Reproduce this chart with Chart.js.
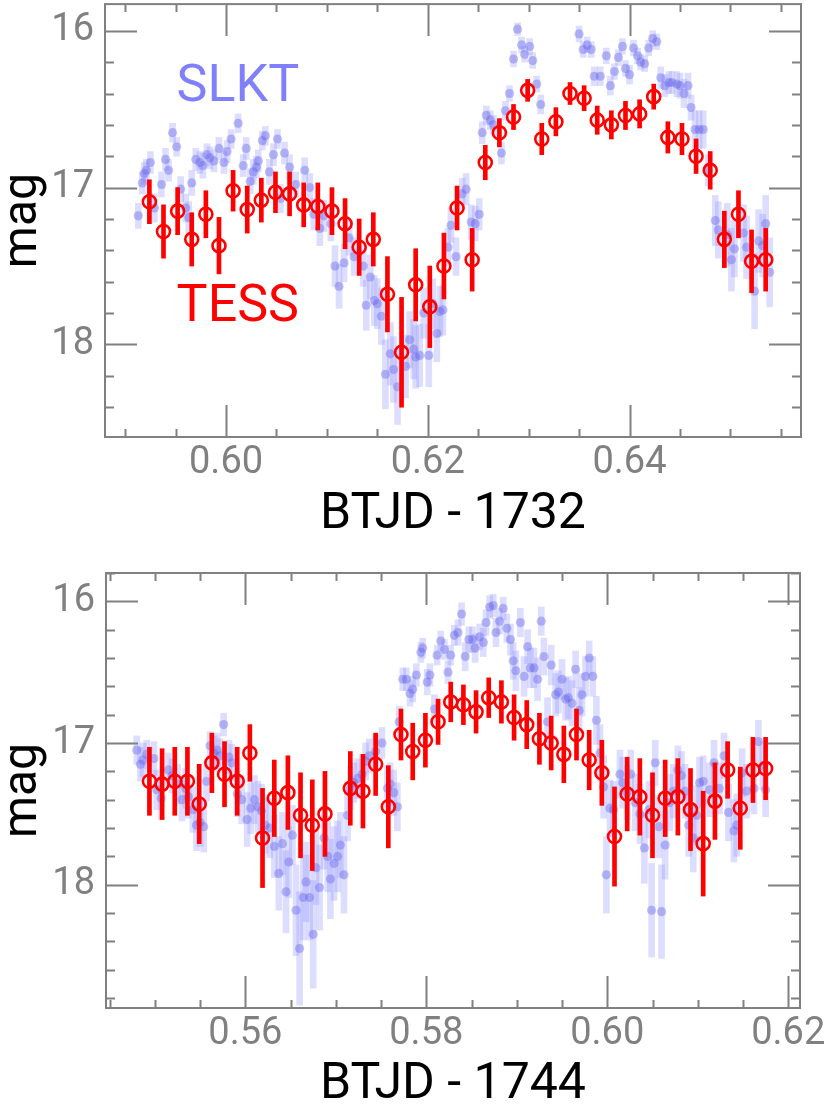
<!DOCTYPE html>
<html lang="en">
<head>
<meta charset="UTF-8">
<title>SLKT / TESS light curves</title>
<script src="https://cdn.jsdelivr.net/npm/chart.js"></script>
<style>
  html, body { margin: 0; padding: 0; background: #fff; }
  .panel { position: absolute; left: 0; width: 830px; }
  #p1 { top: -5px; height: 555px; }
  #p2 { top: 550px; height: 557px; }
</style>
</head>
<body>
<div class="panel" id="p1"><canvas id="chart1"></canvas></div>
<div class="panel" id="p2"><canvas id="chart2"></canvas></div>

<script>
// ---- panel 1 : BTJD - 1732 ----
const slkt1Time = [
  0.5913,0.5917,0.5919,0.5921,0.5925,0.5929,0.5936,0.5940,0.5943,0.5947,
  0.5951,0.5955,0.5960,0.5963,0.5966,0.5970,0.5974,0.5977,0.5981,0.5984,
  0.5988,0.5993,0.5998,0.6001,0.6005,0.6012,0.6017,0.6020,0.6024,0.6027,
  0.6030,0.6032,0.6036,0.6039,0.6043,0.6047,0.6051,0.6054,0.6058,0.6063,
  0.6069,0.6078,0.6083,0.6087,0.6093,0.6097,0.6104,
  0.6108,0.6112,0.6117,0.6122,0.6127,0.6136,0.6139,0.6143,0.6147,0.6150,
  0.6154,0.6158,0.6163,0.6166,0.6170,0.6178,0.6182,0.6186,0.6188,0.6192,
  0.6196,0.6201,0.6205,0.6209,0.6212,0.6215,0.6220,0.6223,0.6228,0.6234,
  0.6238,0.6243,0.6247,0.6251,0.6254,0.6258,0.6262,0.6265,0.6273,0.6277,
  0.6281,0.6285,0.6289,0.6293,0.6296,0.6301,0.6304,0.6308,0.6312,
  0.6350,0.6354,0.6358,0.6362,0.6365,0.6371,0.6377,0.6381,0.6385,0.6389,0.6393,
  0.6396,0.6400,0.6404,0.6408,0.6411,0.6415,0.6419,0.6423,0.6427,0.6431,
  0.6435,0.6439,0.6442,0.6447,0.6450,0.6454,0.6458,0.6461,0.6465,0.6469,
  0.6473,0.6478,0.6485,0.6488,0.6497,0.6501,0.6504,0.6513,0.6516,0.6524,
  0.6528,0.6532,0.6535,0.6539
];
const slkt1Mag = [
  17.18,16.97,16.91,16.89,16.84,17.13,16.98,16.82,16.89,16.65,
  16.74,17.01,17.13,17.19,16.97,16.82,16.84,16.86,16.79,16.81,
  16.83,16.75,16.84,16.77,16.69,16.59,16.86,16.75,16.96,16.90,
  16.87,16.83,16.70,16.67,16.90,16.79,16.69,17.07,16.78,16.87,
  16.98,16.89,17.00,17.17,17.26,17.18,17.23,
  17.50,17.63,17.48,17.32,17.44,17.50,17.75,17.57,17.72,17.74,
  17.82,18.19,18.06,18.16,18.27,18.14,17.97,18.03,18.08,18.07,
  17.80,18.07,17.74,17.93,17.79,17.78,17.38,17.24,17.44,17.04,
  17.01,17.22,17.23,17.17,16.65,16.54,16.57,16.60,16.78,16.51,
  16.40,16.18,15.99,16.09,16.15,16.10,16.19,16.34,16.47,
  16.02,16.12,16.09,16.12,16.29,16.29,16.16,16.35,16.26,16.17,16.10,
  16.24,16.28,16.11,16.16,16.20,16.21,16.11,16.05,16.07,16.30,
  16.35,16.33,16.33,16.34,16.35,16.40,16.35,16.49,16.63,16.63,
  16.63,16.89,17.21,17.27,17.30,17.46,17.39,17.29,17.38,17.66,
  17.34,17.37,17.23,17.54
];
const slkt1Err = [
  0.08,0.07,0.07,0.07,0.07,0.09,0.08,0.07,0.07,0.06,
  0.06,0.08,0.09,0.10,0.08,0.07,0.07,0.08,0.07,0.07,
  0.07,0.07,0.07,0.07,0.06,0.06,0.07,0.07,0.08,0.08,
  0.07,0.07,0.06,0.06,0.08,0.07,0.06,0.09,0.07,0.08,
  0.08,0.08,0.09,0.10,0.11,0.10,0.11,
  0.13,0.14,0.12,0.11,0.12,0.13,0.16,0.14,0.16,0.16,
  0.18,0.22,0.20,0.21,0.24,0.20,0.18,0.19,0.20,0.20,
  0.16,0.20,0.16,0.18,0.16,0.16,0.12,0.11,0.12,0.10,
  0.10,0.11,0.11,0.10,0.07,0.06,0.06,0.06,0.07,0.06,
  0.05,0.05,0.04,0.05,0.05,0.05,0.05,0.05,0.06,
  0.05,0.05,0.05,0.05,0.06,0.06,0.05,0.06,0.05,0.05,0.05,
  0.05,0.06,0.05,0.05,0.05,0.05,0.05,0.05,0.05,0.07,
  0.07,0.07,0.07,0.08,0.08,0.09,0.08,0.08,0.12,0.12,
  0.12,0.10,0.16,0.18,0.20,0.20,0.18,0.18,0.20,0.24,
  0.20,0.20,0.18,0.22
];
const tess1Time = [
  0.5924,0.5938,0.5952,0.5966,0.5980,0.5993,0.6007,0.6021,0.6035,0.6049,
  0.6063,0.6077,0.6091,0.6105,0.6118,0.6132,0.6146,0.6160,0.6174,0.6188,
  0.6202,0.6216,0.6229,0.6244,0.6257,0.6271,0.6285,0.6299,0.6313,0.6327,
  0.6341,0.6355,0.6368,0.6382,0.6396,0.6410,0.6424,0.6438,0.6452,0.6466,
  0.6480,0.6494,0.6508,0.6521,0.6535
];
const tess1Mag = [
  17.09,17.28,17.15,17.33,17.17,17.37,17.02,17.14,17.08,17.03,
  17.04,17.11,17.12,17.15,17.23,17.38,17.33,17.68,18.05,17.62,
  17.76,17.50,17.13,17.46,16.84,16.65,16.55,16.38,16.69,16.58,
  16.40,16.43,16.57,16.60,16.54,16.53,16.42,16.68,16.69,16.80,
  16.89,17.33,17.17,17.47,17.46
];
const tess1Err = [
  0.14,0.17,0.15,0.17,0.15,0.18,0.13,0.15,0.14,0.13,
  0.14,0.14,0.15,0.15,0.16,0.18,0.17,0.24,0.35,0.23,
  0.26,0.21,0.14,0.20,0.11,0.09,0.08,0.07,0.10,0.09,
  0.07,0.08,0.09,0.09,0.09,0.09,0.08,0.10,0.10,0.11,
  0.12,0.18,0.15,0.20,0.20
];

// ---- panel 2 : BTJD - 1744 ----
const slkt2Time = [
  0.5480,0.5484,0.5487,0.5491,0.5499,0.5502,0.5507,0.5515,0.5519,0.5525,
  0.5530,0.5534,0.5537,0.5542,0.5546,0.5550,0.5554,0.5557,0.5561,0.5565,
  0.5569,0.5572,0.5576,0.5582,0.5585,0.5591,0.5596,0.5602,0.5606,0.5610,
  0.5614,0.5618,0.5622,0.5627,0.5632,0.5637,0.5641,0.5645,0.5648,0.5652,
  0.5656,0.5660,0.5664,0.5667,0.5671,0.5675,0.5678,0.5682,0.5687,0.5691,
  0.5694,0.5698,0.5702,0.5705,0.5709,0.5713,0.5716,0.5720,0.5724,0.5729,
  0.5733,0.5737,0.5744,0.5751,0.5757,0.5760,0.5764,0.5768,0.5770,0.5774,
  0.5778,0.5782,0.5785,0.5789,0.5794,0.5796,0.5801,0.5804,0.5809,0.5812,
  0.5816,0.5820,0.5824,0.5827,0.5831,
  0.5835,0.5839,0.5843,0.5847,0.5851,0.5854,0.5859,0.5863,0.5866,0.5870,
  0.5874,0.5877,0.5881,0.5885,0.5889,0.5893,0.5896,0.5899,0.5904,0.5908,
  0.5912,0.5915,0.5919,0.5923,0.5927,0.5930,0.5934,0.5938,0.5943,0.5946,
  0.5950,0.5954,0.5957,0.5961,0.5965,0.5969,0.5972,0.5976,0.5980,0.5984,
  0.5988,0.5992,0.5996,
  0.5999,0.6003,0.6007,0.6014,0.6017,0.6022,0.6026,0.6031,0.6036,0.6041,
  0.6046,0.6049,0.6053,0.6057,0.6060,0.6064,0.6069,0.6073,0.6078,0.6082,
  0.6086,0.6090,0.6095,0.6099,0.6102,0.6106,0.6113,0.6118,0.6124,0.6129,
  0.6134,0.6140,0.6143,0.6149,0.6154,0.6162,0.6167,0.6172,0.6175
];
const slkt2Mag = [
  17.05,17.15,17.12,17.08,17.11,17.33,17.39,17.19,17.23,17.29,
  17.40,17.32,17.38,17.47,17.58,17.56,17.59,17.27,17.02,17.07,
  17.05,17.09,16.87,17.10,17.14,17.36,17.40,17.54,17.46,17.40,
  17.45,17.48,17.58,17.60,17.73,17.92,17.71,18.05,17.84,17.65,
  18.18,18.45,18.09,17.98,18.09,18.35,17.88,18.02,17.67,17.80,
  17.96,17.85,17.80,17.72,17.93,17.51,17.32,17.28,17.25,17.22,
  17.13,17.09,17.06,17.00,17.32,17.29,17.35,17.45,16.85,16.55,
  16.55,16.65,16.62,16.52,16.36,16.33,16.57,16.52,16.76,16.38,
  16.28,16.34,16.50,16.38,16.24,
  16.22,16.09,16.39,16.27,16.27,16.33,16.25,16.29,16.15,16.04,
  16.03,16.22,16.14,16.05,16.19,16.27,16.42,16.49,16.15,16.53,
  16.32,16.47,16.47,16.55,16.14,16.39,16.85,16.45,16.66,16.64,
  16.55,16.69,16.68,16.72,16.48,16.77,16.66,16.53,16.40,16.53,
  16.84,17.07,17.31,
  17.93,17.46,17.47,17.22,17.28,17.35,17.22,17.42,17.50,17.74,
  17.47,18.18,17.14,17.59,18.19,17.72,17.42,17.34,17.19,17.23,
  17.34,17.58,17.67,17.51,17.28,17.27,17.33,17.14,17.32,17.09,
  17.49,17.62,17.58,17.21,17.34,17.32,16.99,17.16,17.33
];
const slkt2Err = [
  0.10,0.12,0.12,0.10,0.12,0.14,0.15,0.12,0.12,0.14,
  0.15,0.14,0.15,0.16,0.18,0.17,0.18,0.14,0.10,0.12,
  0.12,0.12,0.08,0.12,0.13,0.16,0.17,0.19,0.18,0.17,
  0.18,0.19,0.20,0.21,0.22,0.26,0.22,0.29,0.25,0.21,
  0.32,0.40,0.30,0.28,0.30,0.38,0.26,0.30,0.22,0.25,
  0.28,0.26,0.25,0.23,0.27,0.18,0.15,0.14,0.14,0.14,
  0.13,0.12,0.12,0.11,0.16,0.15,0.16,0.17,0.11,0.08,
  0.08,0.09,0.09,0.08,0.07,0.07,0.09,0.08,0.10,0.07,
  0.07,0.07,0.08,0.07,0.07,
  0.09,0.08,0.10,0.09,0.09,0.10,0.09,0.10,0.09,0.08,
  0.08,0.10,0.09,0.08,0.10,0.11,0.13,0.14,0.10,0.14,
  0.12,0.14,0.14,0.15,0.10,0.13,0.17,0.14,0.15,0.15,
  0.14,0.15,0.15,0.16,0.13,0.16,0.15,0.14,0.12,0.14,
  0.17,0.20,0.22,
  0.27,0.20,0.20,0.17,0.18,0.19,0.17,0.20,0.21,0.25,
  0.20,0.33,0.16,0.22,0.33,0.24,0.20,0.19,0.17,0.17,
  0.19,0.22,0.24,0.21,0.18,0.18,0.19,0.16,0.18,0.16,
  0.20,0.22,0.22,0.17,0.19,0.18,0.15,0.17,0.19
];
const tess2Time = [
  0.5494,0.5508,0.5522,0.5536,0.5549,0.5563,0.5577,0.5591,0.5605,0.5619,
  0.5632,0.5647,0.5661,0.5674,0.5688,0.5716,0.5730,0.5744,0.5758,0.5772,
  0.5785,0.5799,0.5813,0.5827,0.5841,0.5855,0.5869,0.5883,0.5897,0.5911,
  0.5925,0.5938,0.5952,0.5966,0.5980,0.5994,0.6008,0.6022,0.6036,0.6050,
  0.6064,0.6078,0.6092,0.6106,0.6119,0.6133,0.6147,0.6161,0.6175
];
const tess2Mag = [
  17.27,17.29,17.27,17.27,17.43,17.14,17.22,17.27,17.07,17.67,
  17.39,17.35,17.51,17.58,17.50,17.32,17.34,17.15,17.45,16.94,
  17.06,16.98,16.85,16.71,16.73,16.78,16.68,16.71,16.82,16.87,
  16.97,17.00,17.08,16.94,17.12,17.21,17.66,17.36,17.38,17.51,
  17.39,17.38,17.47,17.71,17.41,17.19,17.46,17.19,17.18
];
const tess2Err = [
  0.24,0.25,0.24,0.24,0.28,0.21,0.23,0.24,0.20,0.35,
  0.27,0.26,0.30,0.32,0.30,0.26,0.26,0.22,0.29,0.18,
  0.20,0.19,0.16,0.14,0.14,0.15,0.14,0.15,0.16,0.17,
  0.18,0.19,0.20,0.18,0.21,0.23,0.35,0.26,0.27,0.30,
  0.27,0.27,0.29,0.37,0.27,0.20,0.29,0.23,0.22
];

// ---- axes ----
const xMajor1 = [0.60, 0.62, 0.64];
const xMajor2 = [0.56, 0.58, 0.60, 0.62];
const yMajor = [16, 17, 18];
const xTitle1 = 'BTJD - 1732';
const xTitle2 = 'BTJD - 1744';

const GRAY = '#808080';
const FONT = 'Roboto, "DejaVu Sans", sans-serif';
const SLKT_DOT = 'rgba(100, 100, 230, 0.40)';
const SLKT_BAR = 'rgba(150, 150, 255, 0.32)';
const RED = '#ff0000';

function bars(time, mag, err) {
  return time.map((t, i) => ({ x: t, y: [mag[i] - err[i], mag[i] + err[i]] }));
}
function pts(time, mag) {
  return time.map((t, i) => ({ x: t, y: mag[i] }));
}

// box around the plot with inward ticks on all four sides
const framePlugin = {
  id: 'frame',
  afterDatasetsDraw(chart, args, opts) {
    const { ctx, chartArea: a, scales: { x, y } } = chart;
    const isMajor = (v, list) => list.some(m => Math.abs(m - v) < 1e-6);
    ctx.save();
    ctx.strokeStyle = GRAY;
    ctx.lineWidth = 2;
    ctx.beginPath();
    for (let k = Math.ceil(x.min / opts.xStep - 1e-6); k * opts.xStep <= x.max + 1e-9; k++) {
      const v = k * opts.xStep;
      const px = Math.round(x.getPixelForValue(v)) + 0.5;
      const len = isMajor(v, opts.xMajor) ? 32 : 8;
      ctx.moveTo(px, a.bottom); ctx.lineTo(px, a.bottom - len);
      ctx.moveTo(px, a.top); ctx.lineTo(px, a.top + len);
    }
    for (let k = Math.ceil(y.min / opts.yStep - 1e-6); k * opts.yStep <= y.max + 1e-9; k++) {
      const v = k * opts.yStep;
      const py = Math.round(y.getPixelForValue(v)) + 0.5;
      const len = isMajor(v, opts.yMajor) ? 32 : 9;
      ctx.moveTo(a.left, py); ctx.lineTo(a.left + len, py);
      ctx.moveTo(a.right, py); ctx.lineTo(a.right - len, py);
    }
    ctx.stroke();
    ctx.strokeRect(a.left, a.top, a.right - a.left, a.bottom - a.top);
    ctx.restore();
  }
};

// instrument names written inside the first panel
const labelPlugin = {
  id: 'instLabels',
  afterDatasetsDraw(chart, args, opts) {
    if (!opts.items) return;
    const { ctx, scales: { x, y } } = chart;
    ctx.save();
    ctx.font = '52px ' + FONT;
    ctx.textAlign = 'left';
    ctx.textBaseline = 'alphabetic';
    opts.items.forEach(it => {
      ctx.fillStyle = it.color;
      ctx.fillText(it.text, x.getPixelForValue(it.x), y.getPixelForValue(it.y));
    });
    ctx.restore();
  }
};

function makeChart(id, c) {
  return new Chart(document.getElementById(id), {
    type: 'scatter',
    data: {
      datasets: [
        { type: 'bar', data: bars(c.tessTime, c.tessMag, c.tessErr), backgroundColor: RED,
          barThickness: 4, grouped: false, order: 1 },
        { type: 'scatter', data: pts(c.tessTime, c.tessMag), pointStyle: 'circle', pointRadius: 6.5,
          borderColor: RED, borderWidth: 2.6, backgroundColor: 'rgba(0,0,0,0)', order: 0 },
        { type: 'bar', data: bars(c.slktTime, c.slktMag, c.slktErr), backgroundColor: SLKT_BAR,
          barThickness: 6, grouped: false, order: 3 },
        { type: 'scatter', data: pts(c.slktTime, c.slktMag), pointRadius: 4.6, borderWidth: 0,
          backgroundColor: SLKT_DOT, order: 2 }
      ]
    },
    options: {
      responsive: true,
      maintainAspectRatio: false,
      animation: false,
      events: [],
      layout: { padding: { left: 0, right: c.padRight, top: c.padTop, bottom: 0 } },
      plugins: {
        legend: { display: false },
        tooltip: { enabled: false },
        frame: { xStep: 0.005, yStep: 0.2, xMajor: c.xMajor, yMajor: yMajor },
        instLabels: { items: c.labels }
      },
      scales: {
        x: {
          type: 'linear', min: c.xMin, max: c.xMax, offset: false,
          grid: { display: false, drawTicks: false }, border: { display: false },
          afterBuildTicks: s => { s.ticks = c.xMajor.map(v => ({ value: v })); },
          afterFit: s => { s.height = c.xHeight; s.paddingLeft = 0; s.paddingRight = 0; },
          ticks: { color: GRAY, font: { family: FONT, size: 38 }, padding: 4, maxRotation: 0,
                   autoSkip: false, callback: v => v.toFixed(2) },
          title: { display: true, text: c.xTitle, color: '#000',
                   font: { family: FONT, size: 50, lineHeight: 1 }, padding: { top: 0, bottom: c.titlePad } }
        },
        y: {
          type: 'linear', reverse: true, min: c.yMin, max: c.yMax,
          grid: { display: false, drawTicks: false }, border: { display: false },
          afterBuildTicks: s => { s.ticks = yMajor.map(v => ({ value: v })); },
          afterFit: s => { s.width = c.yWidth; s.paddingTop = 0; s.paddingBottom = 0; },
          ticks: { color: GRAY, font: { family: FONT, size: 38 }, padding: 11, callback: v => String(v) },
          title: { display: true, text: 'mag', color: '#000',
                   font: { family: FONT, size: 48, lineHeight: 1 }, padding: { top: 0, bottom: 0 } }
        }
      }
    },
    plugins: [framePlugin, labelPlugin]
  });
}

makeChart('chart1', {
  slktTime: slkt1Time, slktMag: slkt1Mag, slktErr: slkt1Err,
  tessTime: tess1Time, tessMag: tess1Mag, tessErr: tess1Err,
  xMin: 0.5880, xMax: 0.6570, yMin: 15.83, yMax: 18.59,
  xMajor: xMajor1, xTitle: xTitle1,
  padRight: 29, padTop: 1, yWidth: 105, xHeight: 113, titlePad: 10,
  labels: [
    { text: 'SLKT', x: 0.5951, y: 16.45, color: '#8080ff' },
    { text: 'TESS', x: 0.5951, y: 17.85, color: RED }
  ]
});

makeChart('chart2', {
  slktTime: slkt2Time, slktMag: slkt2Mag, slktErr: slkt2Err,
  tessTime: tess2Time, tessMag: tess2Mag, tessErr: tess2Err,
  xMin: 0.5446, xMax: 0.6213, yMin: 15.80, yMax: 18.87,
  xMajor: xMajor2, xTitle: xTitle2,
  padRight: 30, padTop: 23, yWidth: 106, xHeight: 99, titlePad: -3,
  labels: null
});
</script>
</body>
</html>
